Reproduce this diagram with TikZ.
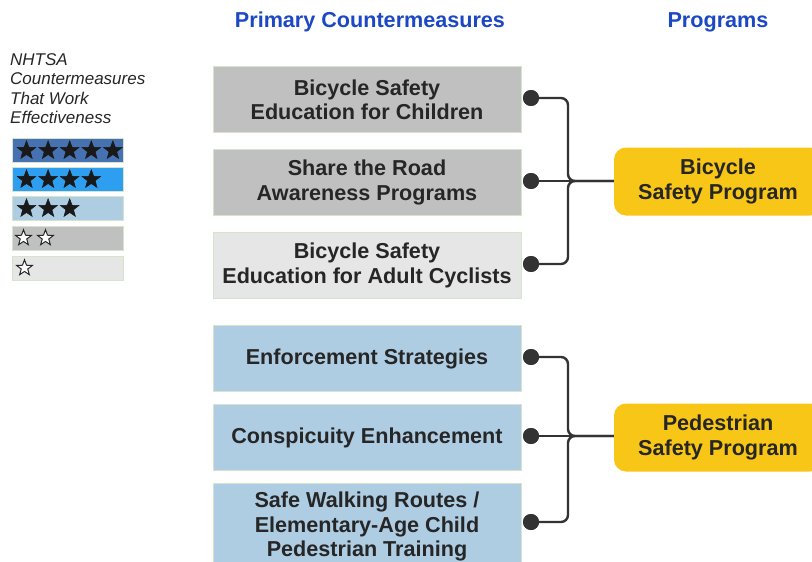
\documentclass[tikz,border=0pt]{standalone}
\usepackage{fontspec}
\setmainfont{Liberation Sans}
\usetikzlibrary{positioning,shapes.geometric}
\definecolor{headBlue}{RGB}{28,72,196}
\definecolor{inkDark}{RGB}{38,38,38}
\definecolor{wireDark}{RGB}{51,51,51}
\definecolor{boxEdge}{RGB}{214,228,204}
\definecolor{grayMid}{RGB}{192,192,192}
\definecolor{grayLight}{RGB}{230,230,230}
\definecolor{blueLight}{RGB}{174,205,227}
\definecolor{blueBright}{RGB}{46,158,240}
\definecolor{blueDeep}{RGB}{70,114,178}
\definecolor{progYellow}{RGB}{247,198,22}
\tikzset{
  measure box/.style={draw=boxEdge,line width=1pt,minimum width=308pt,minimum height=66pt,align=center,text=inkDark,font=\fontsize{21.6}{24.4}\selectfont\bfseries,yshift=-1.5pt},
  program box/.style={fill=progYellow,rounded corners=12pt,minimum width=208pt,minimum height=68pt,align=center,text=inkDark,font=\fontsize{21.6}{24.4}\selectfont\bfseries},
  head label/.style={text=headBlue,font=\fontsize{21.6}{24}\selectfont\bfseries},
  rate bar/.style={draw=boxEdge,line width=1pt,minimum width=111pt,minimum height=24pt,inner sep=0pt},
  full star/.style={star,star points=5,star point ratio=2.4,minimum size=19.5pt,inner sep=0pt,fill=black!90,draw=black!90,line width=0.5pt},
  hollow star/.style={star,star points=5,star point ratio=2.4,minimum size=16.5pt,inner sep=0pt,fill=white,draw=inkDark,line width=1pt},
  link dot/.style={circle,fill=wireDark,minimum size=16pt,inner sep=0pt},
  link wire/.style={draw=wireDark,line width=2.4pt,rounded corners=7pt}
}
\begin{document}
\begin{tikzpicture}[x=1pt,y=-1pt]
  \useasboundingbox (0,0) rectangle (812,562);
  \clip (0,0) rectangle (812,562);
  % headers
  \node[head label] (headMeasures) at (370,22) {Primary Countermeasures};
  \node[head label] (headPrograms) at (718,22) {Programs};
  % legend
  \node[anchor=north west,align=left,inner sep=0pt,font=\fontsize{17}{19.3}\selectfont\itshape,text=inkDark] (legendTitle) at (10,53.5) {NHTSA\\Countermeasures\\That Work\\Effectiveness};
  \node[rate bar,fill=blueDeep] (rate5) at (67.5,150) {};
  \node[rate bar,fill=blueBright] (rate4) at (67.5,179) {};
  \node[rate bar,fill=blueLight] (rate3) at (67.5,208) {};
  \node[rate bar,fill=grayMid] (rate2) at (67.5,238) {};
  \node[rate bar,fill=grayLight] (rate1) at (67.5,268) {};
  \foreach \i in {0,...,4}
    \node[full star] (starA\i) at ([xshift={(15+\i*21.6)*1pt},yshift=-0.5pt]rate5.west) {};
  \foreach \i in {0,...,3}
    \node[full star] (starB\i) at ([xshift={(15+\i*21.6)*1pt},yshift=-0.5pt]rate4.west) {};
  \foreach \i in {0,...,2}
    \node[full star] (starC\i) at ([xshift={(15+\i*21.6)*1pt},yshift=-0.5pt]rate3.west) {};
  \foreach \i in {0,1}
    \node[hollow star] (starD\i) at ([xshift={(12+\i*22)*1pt}]rate2.west) {};
  \node[hollow star] (starE0) at ([xshift=13pt]rate1.west) {};
  % countermeasures
  \node[measure box,fill=grayMid] (childEdu) at (367,98) {Bicycle Safety\\Education for Children};
  \node[measure box,fill=grayMid] (shareRoad) at (367,181) {Share the Road\\Awareness Programs};
  \node[measure box,fill=grayLight] (adultEdu) at (367,264) {Bicycle Safety\\Education for Adult Cyclists};
  \node[measure box,fill=blueLight] (enforce) at (367,357) {Enforcement Strategies};
  \node[measure box,fill=blueLight] (conspic) at (367,436) {Conspicuity Enhancement};
  \node[measure box,fill=blueLight,minimum height=86pt] (walkRoutes) at (367,525) {Safe Walking Routes /\\Elementary-Age Child\\Pedestrian Training};
  % programs
  \node[program box] (bikeProg) at (718,181.5) {Bicycle\\Safety Program};
  \node[program box] (pedProg) at (718,437.5) {Pedestrian\\Safety Program};
  % connectors
  \foreach \m/\y in {childEdu/98,shareRoad/181,adultEdu/264,enforce/357,conspic/436,walkRoutes/522}
    \node[link dot] (dot\m) at (531,\y) {};
  \coordinate (bikeJoin) at (568,181);
  \coordinate (pedJoin) at (568,436);
  \draw[link wire] (dotchildEdu.center) -| (bikeJoin) -- (bikeProg.west |- bikeJoin);
  \draw[link wire] (dotadultEdu.center) -| (bikeJoin) -- (bikeProg.west |- bikeJoin);
  \draw[link wire] (dotshareRoad.center) -- (bikeProg.west |- bikeJoin);
  \draw[link wire] (dotenforce.center) -| (pedJoin) -- (pedProg.west |- pedJoin);
  \draw[link wire] (dotwalkRoutes.center) -| (pedJoin) -- (pedProg.west |- pedJoin);
  \draw[link wire] (dotconspic.center) -- (pedProg.west |- pedJoin);
  \foreach \m in {childEdu,shareRoad,adultEdu,enforce,conspic,walkRoutes}
    \node[link dot] at (dot\m) {};
\end{tikzpicture}
\end{document}
